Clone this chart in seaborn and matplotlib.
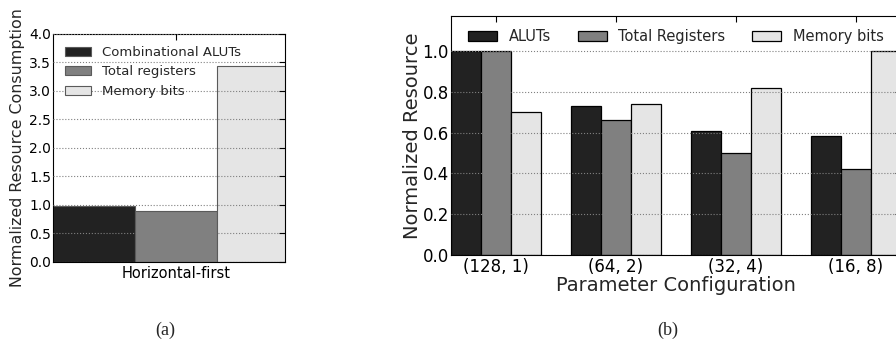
import matplotlib
matplotlib.use("Agg")
import matplotlib.pyplot as plt
import matplotlib.ticker as mticker
from matplotlib.patches import Patch
import pandas as pd
import seaborn as sns

# Panel (a) data
a_category = ["Horizontal-first"]
a_resources = ["Combinational ALUTs", "Total registers", "Memory bits"]
a_values = [0.98, 0.89, 3.43]

# Panel (b) data
b_configs = ["(128, 1)", "(64, 2)", "(32, 4)", "(16, 8)"]
b_resources = ["ALUTs", "Total Registers", "Memory bits"]
b_aluts = [1.0, 0.731, 0.610, 0.581]
b_registers = [1.0, 0.662, 0.498, 0.421]
b_memory = [0.703, 0.739, 0.817, 1.0]

bar_colors = ["#222222", "#808080", "#e5e5e5"]


def style_axes(ax, tick_size):
    """Classic matplotlib look: inward ticks on all sides, dotted y grid above bars"""
    ax.tick_params(direction="in", top=True, right=True, length=4, width=0.8,
                   labelsize=tick_size, colors="black", pad=1.5)
    ax.yaxis.grid(True, linestyle=":", color="0.5", linewidth=0.8)
    ax.xaxis.grid(False)
    ax.set_axisbelow(False)
    ax.yaxis.set_major_formatter(mticker.FormatStrFormatter("%.1f"))
    for spine in ax.spines.values():
        spine.set_color("black")
        spine.set_linewidth(0.8)


def main() -> None:
    sns.set_theme(style="white")
    plt.rcParams["font.family"] = ["DejaVu Sans"]

    fig = plt.figure(figsize=(8.96, 3.43), dpi=100)

    # ---- Panel (a)
    df_a = pd.DataFrame({
        "layout": a_category * len(a_resources),
        "resource": a_resources,
        "value": a_values,
    })
    ax_a = fig.add_axes([0.0592, 0.2362, 0.2589, 0.6647])
    sns.barplot(
        data=df_a, x="layout", y="value", hue="resource",
        hue_order=a_resources, palette=dict(zip(a_resources, bar_colors)),
        width=0.75, saturation=1, edgecolor="#5a5a5a", linewidth=0.8,
        legend=False, ax=ax_a,
    )
    ax_a.set_xlim(-0.375, 0.332)
    ax_a.set_ylim(0, 4.0)
    ax_a.set_yticks([0, 0.5, 1.0, 1.5, 2.0, 2.5, 3.0, 3.5, 4.0])
    style_axes(ax_a, 10)
    ax_a.tick_params(axis="x", labelsize=10.5, pad=3)
    ax_a.set_xlabel("")
    ax_a.set_ylabel("Normalized Resource Consumption", fontsize=11.4, labelpad=3)
    handles_a = [Patch(facecolor=c, edgecolor="#5a5a5a", linewidth=0.8) for c in bar_colors]
    ax_a.legend(handles_a, a_resources, loc="upper left", frameon=False,
                fontsize=9.5, handlelength=2.0, labelspacing=0.5)

    # ---- Panel (b)
    df_b = pd.DataFrame({
        "config": b_configs * 3,
        "resource": [r for r in b_resources for _ in b_configs],
        "value": b_aluts + b_registers + b_memory,
    })
    ax_b = fig.add_axes([0.5033, 0.2566, 0.5022, 0.6977])
    sns.barplot(
        data=df_b, x="config", y="value", hue="resource",
        order=b_configs, hue_order=b_resources,
        palette=dict(zip(b_resources, bar_colors)),
        width=0.75, saturation=1, edgecolor="black", linewidth=0.9,
        legend=False, ax=ax_b,
    )
    ax_b.set_xlim(-0.375, 3.375)
    ax_b.set_ylim(0, 1.173)
    ax_b.set_yticks([0, 0.2, 0.4, 0.6, 0.8, 1.0])
    style_axes(ax_b, 12)
    ax_b.tick_params(axis="x", pad=2)
    ax_b.set_xlabel("Parameter Configuration", fontsize=14, labelpad=0)
    ax_b.set_ylabel("Normalized Resource", fontsize=14, labelpad=0)
    handles_b = [Patch(facecolor=c, edgecolor="black", linewidth=0.9) for c in bar_colors]
    ax_b.legend(handles_b, b_resources, loc="upper center", ncol=3, frameon=False,
                fontsize=10.5, handlelength=2.0, columnspacing=1.8)

    # ---- Captions
    fig.text(165 / 896, 1 - 330 / 343, "(a)", ha="center", va="center",
             fontsize=13, family=["Liberation Serif", "DejaVu Serif"])
    fig.text(668 / 896, 1 - 330 / 343, "(b)", ha="center", va="center",
             fontsize=13, family=["Liberation Serif", "DejaVu Serif"])

    fig.savefig("out.png", dpi=100)
    plt.close(fig)


if __name__ == "__main__":
    main()
